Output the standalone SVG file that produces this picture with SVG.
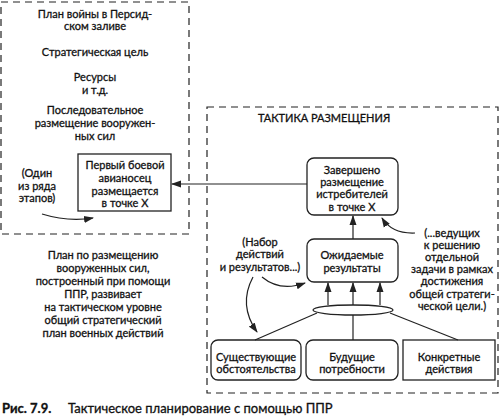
<svg xmlns="http://www.w3.org/2000/svg" width="500" height="420" viewBox="0 0 500 420">
<defs>
<style>
text{font-family:Lato,"Open Sans","Liberation Sans",sans-serif;font-size:11px;fill:#111;stroke:#111;stroke-width:0.3;text-anchor:middle}
.dash{fill:none;stroke:#222;stroke-width:1.2;stroke-dasharray:7 5}
.box{fill:#fff;stroke:#222;stroke-width:1.3}
.ln{fill:none;stroke:#222;stroke-width:1.2}
.cap{text-anchor:start;font-size:13px}
</style>
<marker id="ah" markerWidth="10" markerHeight="8" refX="9" refY="4" orient="auto" markerUnits="userSpaceOnUse">
<path d="M0,0.5 L10,4 L0,7.5 Z" fill="#222"/>
</marker>
</defs>
<rect class="dash" x="1" y="2" width="188" height="232"/>
<rect class="dash" x="207" y="107" width="291" height="286"/>
<g id="left-notes">
<text x="95" y="18">План войны в Персид-</text>
<text x="95" y="30">ском заливе</text>
<text x="95" y="56">Стратегическая цель</text>
<text x="95" y="81">Ресурсы</text>
<text x="95" y="94">и т.д.</text>
<text x="95" y="114">Последовательное</text>
<text x="95" y="127">размещение вооружен-</text>
<text x="95" y="140">ных сил</text>
</g>
<g id="one-of-stages">
<text x="37" y="177">(Один</text>
<text x="37" y="190">из ряда</text>
<text x="37" y="202">этапов)</text>
</g>
<g id="first-carrier">
<rect class="box" x="78" y="154" width="93" height="57"/>
<text x="125" y="169">Первый боевой</text>
<text x="125" y="182">авианосец</text>
<text x="125" y="195">размещается</text>
<text x="125" y="207">в точке X</text>
</g>
<g id="bottom-note">
<text x="103" y="259">План по размещению</text>
<text x="103" y="272">вооруженных сил,</text>
<text x="103" y="285">построенный при помощи</text>
<text x="103" y="298">ППР, развивает</text>
<text x="103" y="311">на тактическом уровне</text>
<text x="103" y="324">общий стратегический</text>
<text x="103" y="337">план военных действий</text>
</g>
<g id="tactics-title">
<text x="258" y="122" style="text-anchor:start">ТАКТИКА РАЗМЕЩЕНИЯ</text>
</g>
<g id="fighters-done">
<rect class="box" x="307" y="158" width="91" height="57" rx="7"/>
<text x="352" y="174">Завершено</text>
<text x="352" y="186">размещение</text>
<text x="352" y="198">истребителей</text>
<text x="352" y="211">в точке X</text>
</g>
<g id="expected">
<rect class="box" x="307" y="239" width="91" height="43" rx="7"/>
<text x="352" y="259">Ожидаемые</text>
<text x="352" y="272">результаты</text>
</g>
<g id="set-note">
<text x="260" y="246">(Набор</text>
<text x="260" y="258">действий</text>
<text x="260" y="271">и результатов...)</text>
</g>
<g id="leading-note">
<text x="452" y="237">(...ведущих</text>
<text x="452" y="249">к решению</text>
<text x="452" y="261">отдельной</text>
<text x="452" y="273">задачи в рамках</text>
<text x="452" y="285">достижения</text>
<text x="452" y="298">общей стратеги-</text>
<text x="452" y="310">ческой цели.)</text>
</g>
<g id="junction">
<ellipse class="box" cx="353" cy="310" rx="40" ry="5"/>
</g>
<g id="existing">
<rect class="box" x="211" y="340" width="90" height="40" rx="7"/>
<text x="256" y="361">Существующие</text>
<text x="256" y="373">обстоятельства</text>
</g>
<g id="future">
<rect class="box" x="306" y="340" width="92" height="40" rx="7"/>
<text x="352" y="361">Будущие</text>
<text x="352" y="373">потребности</text>
</g>
<g id="concrete">
<rect class="box" x="403" y="340" width="92" height="40"/>
<text x="449" y="361">Конкретные</text>
<text x="449" y="373">действия</text>
</g>
<g id="connectors">
<line class="ln" x1="307" y1="184" x2="172" y2="184" marker-end="url(#ah)"/>
<line class="ln" x1="353" y1="239" x2="353" y2="216" marker-end="url(#ah)"/>
<line class="ln" x1="328" y1="305" x2="328" y2="283" marker-end="url(#ah)"/>
<line class="ln" x1="353" y1="305" x2="353" y2="283" marker-end="url(#ah)"/>
<line class="ln" x1="380" y1="305" x2="380" y2="283" marker-end="url(#ah)"/>
<line class="ln" x1="317" y1="313" x2="255" y2="340"/>
<line class="ln" x1="353" y1="315" x2="353" y2="340"/>
<line class="ln" x1="390" y1="313" x2="458" y2="340"/>
<path class="ln" d="M42,214 Q68,222 93,218" marker-end="url(#ah)"/>
<path class="ln" d="M262,277 Q280,292 305,283" marker-end="url(#ah)"/>
<path class="ln" d="M253,277 Q238,305 257,332" marker-end="url(#ah)"/>
<path class="ln" d="M415,233 Q392,234 382,218" marker-end="url(#ah)"/>
</g>
<g id="caption">
<text class="cap" x="2" y="413" style="font-weight:bold">Рис. 7.9.</text>
<text class="cap" x="68" y="413">Тактическое планирование с помощью ППР</text>
</g>
</svg>
